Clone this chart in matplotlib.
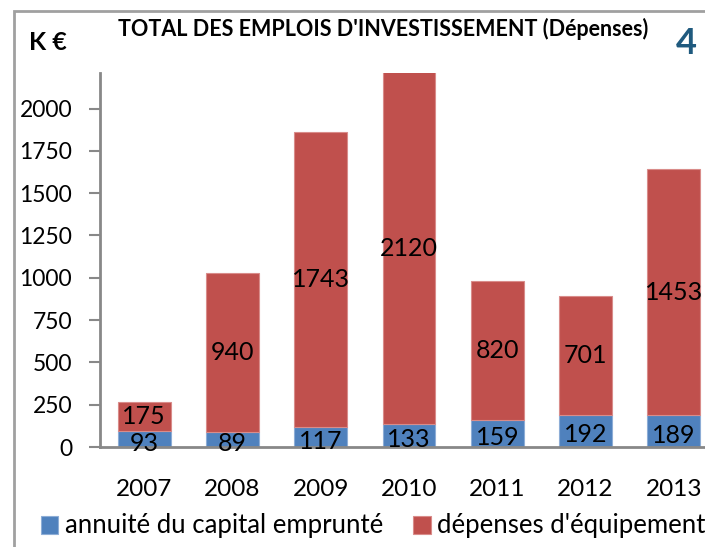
import matplotlib
matplotlib.use('Agg')
from matplotlib import pyplot as plt
from matplotlib.patches import Rectangle

years = ['2007', '2008', '2009', '2010', '2011', '2012', '2013']
annuite = [93, 89, 117, 133, 159, 192, 189]
depenses = [175, 940, 1743, 2120, 820, 701, 1453]
yticks = [0, 250, 500, 750, 1000, 1250, 1500, 1750, 2000]

blue = '#4F81BD'
red = '#C0504D'
grey = '#888888'

plt.rcParams['font.family'] = ['Lato', 'DejaVu Sans']

fig = plt.figure(figsize=(7.05, 5.47), dpi=100)

# outer frame like the spreadsheet chart border
fig.patches.append(Rectangle((14 / 705, -0.05), 1.0, 1 - 11 / 547 + 0.05,
                             transform=fig.transFigure, fill=False,
                             edgecolor='#A0A0A0', linewidth=2))

ax = fig.add_axes([100 / 705, 1 - 447 / 547, 618 / 705, (447 - 73) / 547])

x = range(len(years))
width = 0.6
p1 = ax.bar(x, annuite, width, color=blue, edgecolor='#8DADD6', linewidth=0.8,
            label='annuité du capital emprunté')
p2 = ax.bar(x, depenses, width, bottom=annuite, color=red, edgecolor='#D98C8A',
            linewidth=0.8, label="dépenses d'équipement")
ax.bar_label(p1, label_type='center', fontsize=18, padding=-3)
ax.bar_label(p2, label_type='center', fontsize=18)

ax.set_xlim(-0.5, len(years) - 0.5)
ax.set_ylim(0, 2210)
ax.set_yticks(yticks)
ax.set_xticks(list(x))
ax.set_xticklabels(years, fontsize=17.5)
ax.tick_params(axis='y', labelsize=16.5, direction='out', length=8, width=1.5,
               color=grey, pad=12)
ax.tick_params(axis='x', length=0, pad=23)

for side in ['top', 'right']:
    ax.spines[side].set_visible(False)
for side in ['left', 'bottom']:
    ax.spines[side].set_color(grey)
    ax.spines[side].set_linewidth(2)

fig.text(383 / 705, 1 - 29 / 547, "TOTAL DES EMPLOIS D'INVESTISSEMENT (Dépenses)",
         ha='center', va='center', fontsize=15.5, fontweight='bold')
fig.text(29 / 705, 1 - 42 / 547, 'K €', ha='left', va='center',
         fontsize=18, fontweight='bold')
fig.text(686 / 705, 1 - 44 / 547, '4', ha='center', va='center',
         fontsize=26, fontweight='bold', color='#1F5A7E')

fig.legend(handles=[p1, p2], loc='center', bbox_to_anchor=(373 / 705, 1 - 526 / 547),
           ncol=2, frameon=False, fontsize=18.5, handlelength=0.7, handleheight=0.7,
           handletextpad=0.25, columnspacing=1.15)

fig.savefig('out.png', dpi=100)
